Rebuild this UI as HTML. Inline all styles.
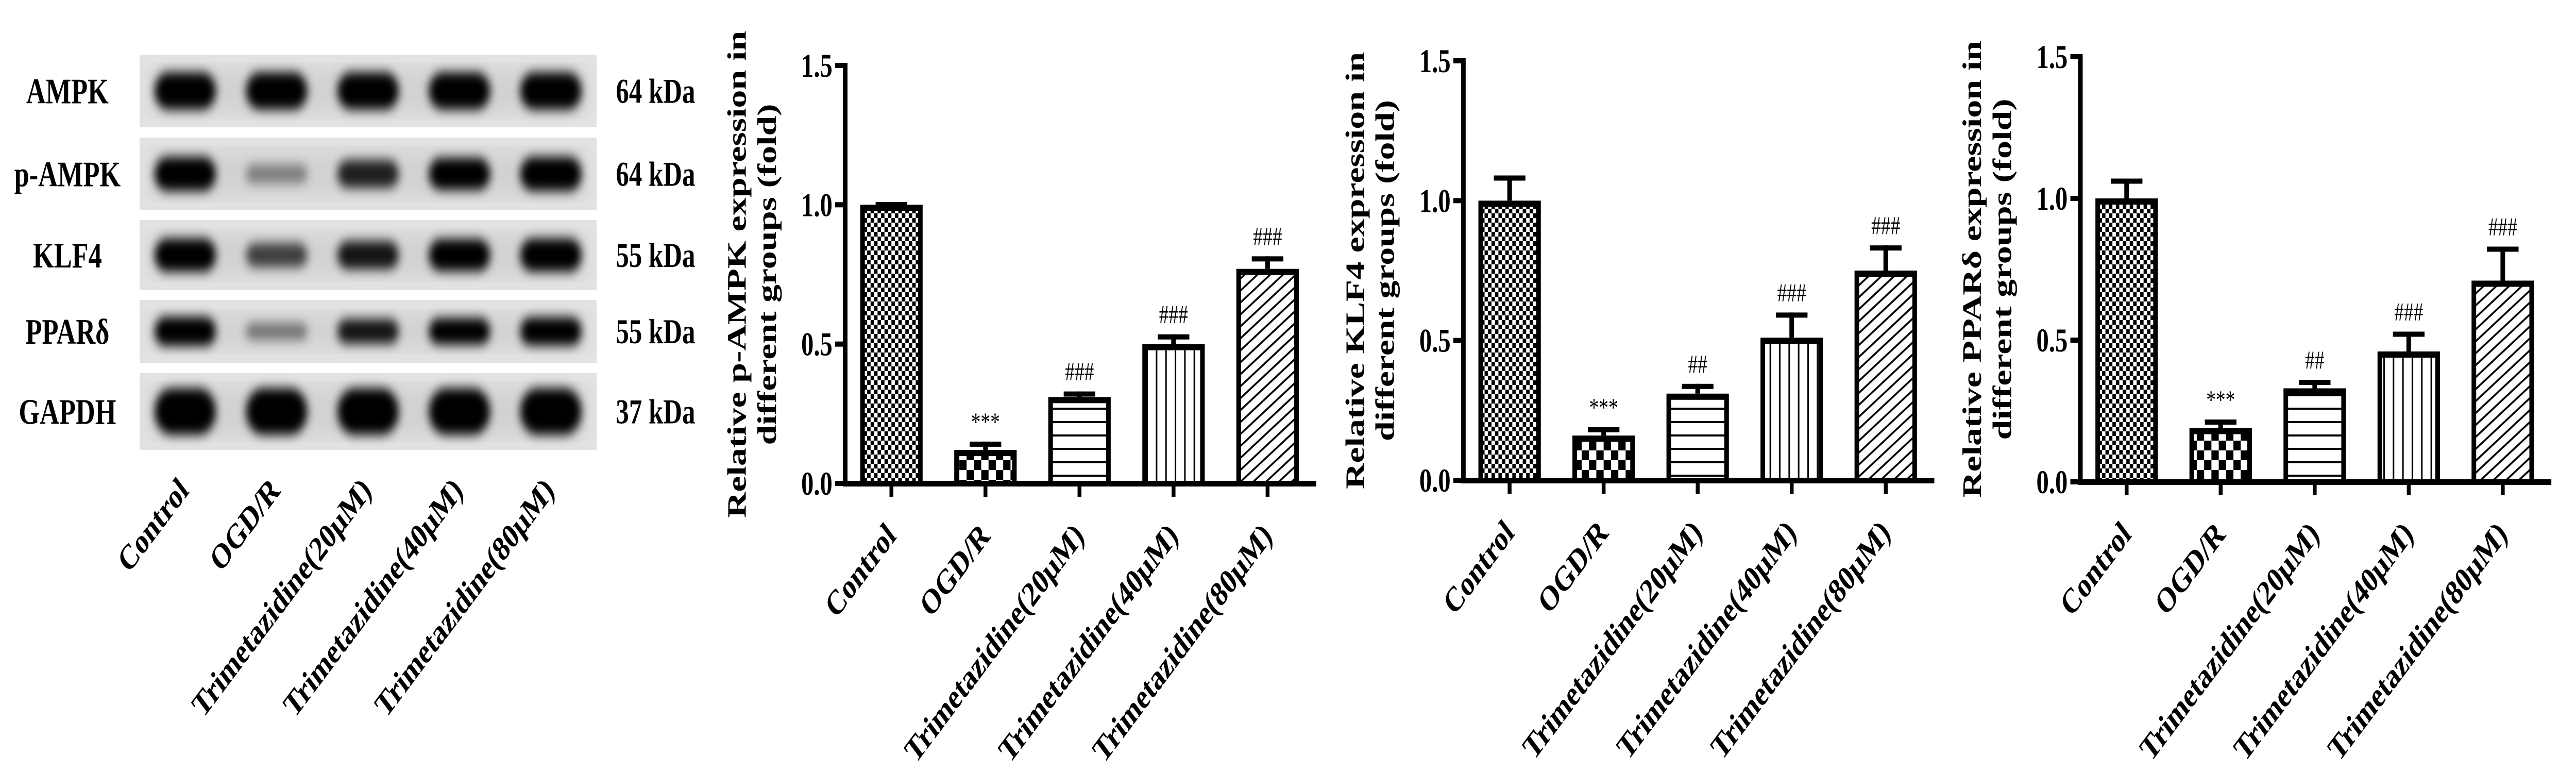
<!DOCTYPE html>
<html>
<head>
<meta charset="utf-8">
<style>
html,body{margin:0;padding:0;background:#fff;width:100%;height:100%;overflow:hidden;}
svg{display:block;position:absolute;left:0;top:0;}
text{font-family:"Liberation Serif","Times New Roman",serif;}
</style>
</head>
<body>
<svg id="fig" width="100%" height="100%" viewBox="0 0 6684 1498" preserveAspectRatio="none" xmlns="http://www.w3.org/2000/svg">
<defs>
  <filter id="blur" x="-30%" y="-60%" width="160%" height="220%"><feGaussianBlur stdDeviation="11"/></filter>
  <filter id="bgblur"><feGaussianBlur stdDeviation="20"/></filter>
  <pattern id="pat-fine" patternUnits="userSpaceOnUse" width="18" height="18">
    <rect width="18" height="18" fill="#fff"/><rect width="9" height="9" fill="#000"/><rect x="9" y="9" width="9" height="9" fill="#000"/>
  </pattern>
  <pattern id="pat-coarse" patternUnits="userSpaceOnUse" width="38" height="38">
    <rect width="38" height="38" fill="#fff"/><rect width="19" height="19" fill="#000"/><rect x="19" y="19" width="19" height="19" fill="#000"/>
  </pattern>
  <pattern id="pat-hor" patternUnits="userSpaceOnUse" width="26" height="26">
    <rect width="26" height="26" fill="#fff"/><rect y="11" width="26" height="4" fill="#000"/>
  </pattern>
  <pattern id="pat-ver" patternUnits="userSpaceOnUse" width="24.5" height="24.5">
    <rect width="24.5" height="24.5" fill="#fff"/><rect x="10" width="4" height="24.5" fill="#000"/>
  </pattern>
  <pattern id="pat-diag" patternUnits="userSpaceOnUse" width="19" height="19" patternTransform="rotate(-35)">
    <rect width="19" height="19" fill="#fff"/><rect y="7" width="19" height="4" fill="#000"/>
  </pattern>
</defs>
<rect x="0" y="0" width="6684" height="1498" fill="#fff"/>
<g id="blot"></g>
<g id="charts"></g>
</svg>
<script>
// ---------- data ----------
const categories = ["Control", "OGD/R", "Trimetazidine(20µM)", "Trimetazidine(40µM)", "Trimetazidine(80µM)"];
const yTicks = [0, 0.5, 1.0, 1.5];
const yTickLabels = ["0.0", "0.5", "1.0", "1.5"];
const pAmpkValues = [1.0, 0.12, 0.31, 0.50, 0.77];
const pAmpkErrors = [0.01, 0.03, 0.02, 0.035, 0.045];
const pAmpkMarks = ["", "***", "###", "###", "###"];
const klf4Values = [1.0, 0.16, 0.31, 0.51, 0.75];
const klf4Errors = [0.09, 0.03, 0.035, 0.09, 0.09];
const klf4Marks = ["", "***", "##", "###", "###"];
const pparValues = [1.0, 0.19, 0.33, 0.46, 0.71];
const pparErrors = [0.07, 0.03, 0.03, 0.07, 0.12];
const pparMarks = ["", "***", "##", "###", "###"];
const blotProteins = ["AMPK", "p-AMPK", "KLF4", "PPARδ", "GAPDH"];
const blotWeights = ["64 kDa", "64 kDa", "55 kDa", "55 kDa", "37 kDa"];
const ampkBands = [1.0, 1.0, 1.0, 1.0, 1.0];
const pAmpkBands = [1.0, 0.25, 0.7, 0.9, 1.0];
const klf4Bands = [1.0, 0.55, 0.75, 0.95, 1.0];
const pparBands = [1.0, 0.3, 0.75, 0.85, 0.95];
const gapdhBands = [1.0, 1.0, 1.0, 1.0, 1.0];

const NS = "http://www.w3.org/2000/svg";
function mk(tag, attrs, parent, text) {
  const e = document.createElementNS(NS, tag);
  for (const k in attrs) e.setAttribute(k, attrs[k]);
  if (text !== undefined) e.textContent = text;
  parent.appendChild(e);
  return e;
}

// ---------- western blot ----------
const blot = document.getElementById("blot");
const rowTops = [106, 267, 427, 582, 724];
const rowBots = [247, 408, 563, 704, 873];
const blotLeft = 362, blotRight = 1548;
const laneFrac = [0.1, 0.3, 0.5, 0.7, 0.9];
const bandSets = [ampkBands, pAmpkBands, klf4Bands, pparBands, gapdhBands];
const bandMaxH = [72, 66, 64, 56, 90];

blotProteins.forEach((name, r) => {
  const top = rowTops[r], bot = rowBots[r], cy = (top + bot) / 2;
  const strip = mk("g", {}, blot);
  
  
  const clipId = "clip" + r;
  const cp = mk("clipPath", {id: clipId}, strip);
  mk("rect", {x: blotLeft, y: top, width: blotRight - blotLeft, height: bot - top}, cp);
  const inner = mk("g", {"clip-path": "url(#" + clipId + ")"}, strip);
  mk("rect", {x: blotLeft, y: top, width: blotRight - blotLeft, height: bot - top, fill: "#e2e2e2"}, inner);
  mk("rect", {x: blotLeft + 30, y: top + 25, width: blotRight - blotLeft - 60, height: bot - top - 50, fill: "#d2d2d2", filter: "url(#bgblur)"}, inner);
  bandSets[r].forEach((inten, l) => {
    const cx = blotLeft + laneFrac[l] * (blotRight - blotLeft);
    const h = bandMaxH[r] * (0.4 + 0.6 * inten);
    const band = mk("rect", {x: cx - 80, y: cy - h / 2, width: 160, height: h, rx: h / 2, fill: "#000", opacity: Math.min(1, 0.15 + inten), filter: "url(#blur)"}, inner);
    
    
  });
  const lbl = mk("text", {x: 175, y: cy + 24, "text-anchor": "middle", "font-size": 70, "font-weight": "bold"}, blot, name);
  
  
  const kd = mk("text", {x: 1598, y: cy + 23, "font-size": 68, "font-weight": "bold"}, blot, blotWeights[r]);
  
  
});
categories.forEach((c, l) => {
  const cx = blotLeft + laneFrac[l] * (blotRight - blotLeft);
  const t = mk("text", {x: 0, y: 0, "text-anchor": "end", "font-size": 68, "font-weight": "bold", transform: "translate(" + (cx + 12) + ",955) rotate(-45)"}, blot, c);
  
  
});

// ---------- bar charts ----------
const chartsG = document.getElementById("charts");
const patterns = ["pat-fine", "pat-coarse", "pat-hor", "pat-ver", "pat-diag"];
const chartDefs = [
  {key: "p-ampk", axisX: 2193, top: 127, bot: 938, vals: pAmpkValues, errs: pAmpkErrors, marks: pAmpkMarks, t1: "Relative p-AMPK expression in", t2: "different groups (fold)"},
  {key: "klf4", axisX: 3797, top: 118, bot: 932, vals: klf4Values, errs: klf4Errors, marks: klf4Marks, t1: "Relative KLF4 expression in", t2: "different groups (fold)"},
  {key: "ppard", axisX: 5398, top: 110, bot: 935, vals: pparValues, errs: pparErrors, marks: pparMarks, t1: "Relative PPARδ expression in", t2: "different groups (fold)"}
];

chartDefs.forEach(c => {
  const g = mk("g", {}, chartsG);
  
  
  const yS = v => c.bot - v / 1.5 * (c.bot - c.top);
  const xS = i => c.axisX + 120 + i * 244;
  const midY = (c.top + c.bot) / 2;

  const tt = mk("text", {"text-anchor": "middle", "font-size": 70, "font-weight": "bold", transform: "translate(" + (c.axisX - 258) + "," + midY + ") rotate(-90)"}, g, c.t1);
  
  
  const tt2 = mk("text", {"text-anchor": "middle", "font-size": 70, "font-weight": "bold", transform: "translate(" + (c.axisX - 180) + "," + midY + ") rotate(-90)"}, g, c.t2);
  
  

  c.vals.forEach((v, i) => {
    const cx = xS(i), y = yS(v);
    const bar = mk("g", {}, g);
    
    
    mk("rect", {x: cx - 81, y: y, width: 162, height: c.bot - y, fill: "#000"}, bar);
    mk("rect", {x: cx - 69, y: y + 12, width: 138, height: Math.max(0, c.bot - y - 12), fill: "url(#" + patterns[i] + ")"}, bar);
    const ye = yS(v + c.errs[i]);
    const eb = mk("g", {}, g);
    
    
    mk("rect", {x: cx - 6, y: ye, width: 12, height: y - ye, fill: "#000"}, eb);
    mk("rect", {x: cx - 41, y: ye, width: 82, height: 10, fill: "#000"}, eb);
    if (c.marks[i]) {
      const m = mk("text", {x: cx, y: ye - 22, "text-anchor": "middle", "font-size": 50}, g, c.marks[i]);
      
      
    }
    const xt = mk("rect", {x: cx - 5, y: c.bot, width: 10, height: 26, fill: "#000"}, g);
    
    
    const xl = mk("text", {"text-anchor": "end", "font-size": 68, "font-weight": "bold", transform: "translate(" + (cx + 15) + "," + (c.bot + 105) + ") rotate(-45)"}, g, categories[i]);
    
    
  });

  const ya = mk("rect", {x: c.axisX - 6, y: c.top - 5, width: 12, height: c.bot - c.top + 10, fill: "#000"}, g);
  
  
  const xa = mk("rect", {x: c.axisX - 6, y: c.bot - 5, width: 1228, height: 11, fill: "#000"}, g);
  
  
  yTicks.forEach((t, k) => {
    const y = yS(t);
    const tk = mk("rect", {x: c.axisX - 26, y: y - 5, width: 24, height: 10, fill: "#000"}, g);
    
    
    const tl = mk("text", {x: c.axisX - 33, y: y + 22, "text-anchor": "end", "font-size": 65, "font-weight": "bold"}, g, yTickLabels[k]);
    
    
  });
});
</script>
</body>
</html>
